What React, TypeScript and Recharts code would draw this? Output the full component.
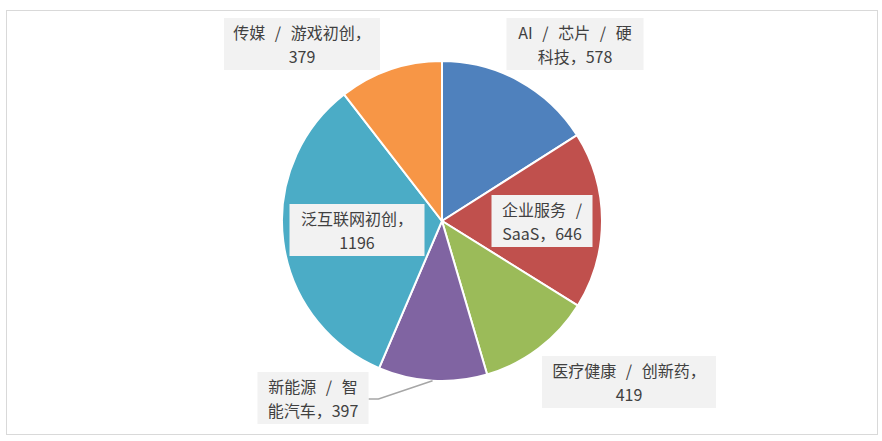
import React from 'react';
import { PieChart, Pie, Cell } from 'recharts';

const categories = [
    'AI / 芯片 / 硬科技',
    '企业服务 / SaaS',
    '医疗健康 / 创新药',
    '新能源 / 智能汽车',
    '泛互联网初创',
    '传媒 / 游戏初创',
];
const counts = [578, 646, 419, 397, 1196, 379];
const colors = ['#4F81BD', '#C0504D', '#9BBB59', '#8064A2', '#4BACC6', '#F79646'];

// label box placement relative to the pie centre, box width, and where the text wraps
const labelLayout = [
    { dx: 133, dy: -177, w: 137, split: 11, leader: false },
    { dx: 100, dy: 0, w: 101, split: 6, leader: false },
    { dx: 187, dy: 161, w: 174, split: 11, leader: false },
    { dx: -129, dy: 177, w: 111, split: 7, leader: true },
    { dx: -85, dy: 9, w: 135, split: 7, leader: false },
    { dx: -140, dy: -177, w: 156, split: 10, leader: false },
];

const data = categories.map((name, i) => ({ name, value: counts[i] }));

const RAD = Math.PI / 180;

function renderLabel(props: any) {
    const { cx, cy, midAngle, outerRadius, index, name, value } = props;
    const lay = labelLayout[index];
    const text = `${name}，${value}`;
    const line1 = text.slice(0, lay.split).trim();
    const line2 = text.slice(lay.split).trim();
    const bx = cx + lay.dx;
    const by = cy + lay.dy;
    const h = 52;
    let leader = null;
    if (lay.leader) {
        const ex = cx + outerRadius * Math.cos(-midAngle * RAD);
        const ey = cy + outerRadius * Math.sin(-midAngle * RAD);
        const sx = bx + lay.w / 2;
        leader = (
            <polyline
                points={`${sx},${by + 1} ${sx + 10},${by + 1} ${ex},${ey}`}
                fill="none"
                stroke="#A6A6A6"
                strokeWidth={1.5}
            />
        );
    }
    return (
        <g key={`lbl-${index}`}>
            {leader}
            <rect x={bx - lay.w / 2} y={by - h / 2} width={lay.w} height={h} fill="#F2F2F2" />
            <text
                x={bx}
                textAnchor="middle"
                fill="#404040"
                fontSize={16}
                fontFamily='"Noto Sans CJK SC", sans-serif'
                style={{ wordSpacing: '6px' }}
            >
                <tspan x={bx} y={by - 12} dominantBaseline="central">{line1}</tspan>
                <tspan x={bx} y={by + 12} dominantBaseline="central">{line2}</tspan>
            </text>
        </g>
    );
}

export default function App() {
    return (
        <div style={{ position: 'absolute', left: 0, top: 0, width: 882, height: 441, background: '#fff' }}>
            <div
                style={{
                    position: 'absolute',
                    left: 6,
                    top: 10,
                    width: 870,
                    height: 423,
                    border: '1.5px solid #D9D9D9',
                }}
            />
            <div style={{ position: 'absolute', left: 0, top: 0 }}>
                <PieChart width={882} height={441} margin={{ top: 0, right: 0, bottom: 0, left: 0 }}>
                    <Pie
                        data={data}
                        dataKey="value"
                        nameKey="name"
                        cx={442}
                        cy={221}
                        outerRadius={160}
                        startAngle={90}
                        endAngle={-270}
                        stroke="#FFFFFF"
                        strokeWidth={2}
                        label={renderLabel}
                        labelLine={false}
                        isAnimationActive={false}
                    >
                        {data.map((d, i) => (
                            <Cell key={d.name} fill={colors[i]} />
                        ))}
                    </Pie>
                </PieChart>
            </div>
        </div>
    );
}
